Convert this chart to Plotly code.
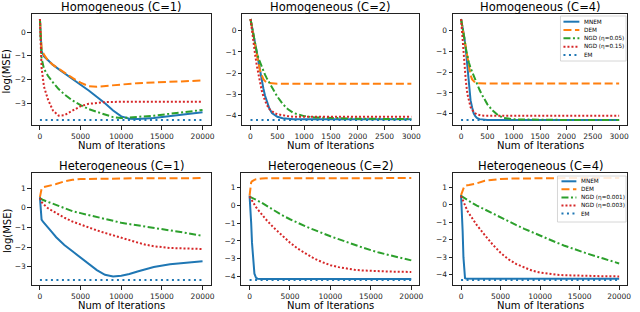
import math
import plotly.graph_objects as go

W, H = 640, 312

# ---------------- data ----------------
series_names = ["MNEM", "DEM", "NGD_a", "NGD_b", "EM"]
legend_top = ["MNEM", "DEM", "NGD (η=0.05)", "NGD (η=0.15)", "EM"]
legend_bottom = ["MNEM", "DEM", "NGD (η=0.001)", "NGD (η=0.003)", "EM"]
titles = ["Homogeneous (C=1)", "Homogeneous (C=2)", "Homogeneous (C=4)",
          "Heterogeneous (C=1)", "Heterogeneous (C=2)", "Heterogeneous (C=4)"]

# Homogeneous C=1
x_hom1 = [0, 100, 200, 500, 1000, 1600, 2300, 3000, 4000, 5000, 6000, 7000, 8000, 9000,
          10000, 11000, 12000, 14000, 16000, 18000, 20000]
mnem_hom1 = [0.55, -0.4, -0.8, -1.02, -1.2, -1.38, -1.56, -1.74, -1.98, -2.22, -2.46, -2.72,
             -3.0, -3.3, -3.55, -3.65, -3.66, -3.62, -3.54, -3.46, -3.38]
dem_hom1 = [0.55, -0.35, -0.7, -0.95, -1.2, -1.38, -1.55, -1.72, -1.93, -2.13, -2.28, -2.3,
            -2.27, -2.23, -2.2, -2.17, -2.15, -2.12, -2.09, -2.06, -2.04]
ngda_hom1 = [0.55, -0.6, -1.1, -1.55, -1.85, -2.12, -2.4, -2.62, -2.88, -3.08, -3.24, -3.36,
             -3.48, -3.58, -3.62, -3.6, -3.58, -3.52, -3.44, -3.36, -3.28]
ngdb_hom1 = [0.55, -0.8, -1.5, -2.3, -2.85, -3.3, -3.52, -3.5, -3.3, -3.12, -3.02, -2.97,
             -2.95, -2.94, -2.93, -2.93, -2.93, -2.93, -2.93, -2.93, -2.93]
em_hom1 = [-3.7] * len(x_hom1)

# Homogeneous C=2
x_hom2 = [0, 30, 60, 90, 120, 150, 180, 210, 240, 270, 300, 350, 400, 450, 500, 600, 700,
          800, 900, 1000, 1200, 1500, 2000, 2500, 3000]
mnem_hom2 = [0.55, 0.2, -0.28, -0.65, -1.05, -1.5, -1.95, -2.35, -2.72, -3.05, -3.3, -3.65,
             -3.87, -3.98, -4.05, -4.12, -4.15, -4.17, -4.17, -4.17, -4.17, -4.17, -4.17,
             -4.17, -4.17]
dem_hom2 = [0.55, 0.1, -0.35, -0.75, -1.15, -1.55, -1.9, -2.12, -2.28, -2.37, -2.42, -2.46,
            -2.48, -2.48, -2.49, -2.49, -2.49, -2.49, -2.49, -2.49, -2.5, -2.5, -2.5, -2.5, -2.5]
ngda_hom2 = [0.55, 0.1, -0.35, -0.72, -1.05, -1.3, -1.52, -1.72, -1.9, -2.07, -2.22, -2.45,
             -2.68, -2.9, -3.1, -3.45, -3.7, -3.87, -3.96, -4.02, -4.08, -4.11, -4.14, -4.15,
             -4.16]
ngdb_hom2 = [0.55, -0.1, -0.7, -1.2, -1.68, -2.12, -2.5, -2.83, -3.08, -3.3, -3.47, -3.68,
             -3.8, -3.88, -3.93, -3.99, -4.02, -4.05, -4.05, -4.05, -4.05, -4.05, -4.05,
             -4.05, -4.05]
em_hom2 = [-4.2] * len(x_hom2)

# Homogeneous C=4
x_hom4 = x_hom2
mnem_hom4 = [0.55, 0.2, -0.3, -0.9, -1.75, -2.7, -3.35, -3.7, -3.98, -4.12, -4.2, -4.26,
             -4.28, -4.3, -4.3, -4.3, -4.3, -4.3, -4.3, -4.3, -4.3, -4.3, -4.3, -4.3, -4.3]
dem_hom4 = [0.55, 0.1, -0.4, -0.95, -1.45, -1.85, -2.15, -2.35, -2.46, -2.51, -2.54, -2.55,
            -2.55, -2.55, -2.55, -2.55, -2.55, -2.55, -2.55, -2.55, -2.55, -2.55, -2.55,
            -2.55, -2.55]
ngda_hom4 = [0.55, 0.15, -0.35, -0.85, -1.25, -1.55, -1.8, -2.0, -2.2, -2.4, -2.57, -2.85,
             -3.1, -3.35, -3.55, -3.85, -4.07, -4.2, -4.25, -4.27, -4.28, -4.3, -4.3, -4.3,
             -4.3]
ngdb_hom4 = [0.55, -0.6, -1.6, -2.4, -3.05, -3.45, -3.68, -3.82, -3.92, -3.98, -4.03, -4.07,
             -4.09, -4.1, -4.1, -4.1, -4.1, -4.1, -4.1, -4.1, -4.1, -4.1, -4.1, -4.1, -4.1]
em_hom4 = [-4.3] * len(x_hom4)

# Heterogeneous C=1
x_het1 = [0, 100, 200, 400, 700, 1000, 1500, 2000, 3000, 4000, 5000, 6000, 7000, 8000, 9000,
          10000, 11000, 12000, 13000, 14000, 16000, 18000, 20000]
mnem_het1 = [0.55, -0.4, -0.6, -0.72, -0.88, -1.0, -1.25, -1.5, -1.9, -2.22, -2.55, -2.88,
             -3.18, -3.42, -3.5, -3.47, -3.38, -3.25, -3.12, -3.02, -2.88, -2.79, -2.73]
dem_het1 = [0.55, 0.85, 0.97, 1.05, 1.08, 1.1, 1.14, 1.22, 1.35, 1.43, 1.47, 1.48, 1.49, 1.5,
            1.5, 1.5, 1.51, 1.51, 1.51, 1.51, 1.52, 1.52, 1.52]
ngda_het1 = [0.5, 0.47, 0.44, 0.4, 0.35, 0.3, 0.22, 0.14, -0.04, -0.17, -0.27, -0.37, -0.48,
             -0.58, -0.68, -0.76, -0.83, -0.89, -0.96, -1.02, -1.14, -1.28, -1.43]
ngdb_het1 = [0.5, 0.4, 0.3, 0.2, 0.08, -0.02, -0.15, -0.28, -0.5, -0.7, -0.86, -1.0, -1.15,
             -1.28, -1.41, -1.53, -1.65, -1.77, -1.88, -1.96, -2.05, -2.09, -2.1]
em_het1 = [-3.68] * len(x_het1)

# Heterogeneous C=2
x_het2 = [0, 100, 200, 300, 400, 500, 600, 800, 1000, 1500, 2000, 3000, 4000, 5000, 6000,
          7000, 8000, 9000, 10000, 11000, 12000, 13000, 14000, 16000, 18000, 20000]
mnem_het2 = [0.55, -0.1, -1.0, -2.1, -2.9, -3.5, -3.85, -4.08, -4.13, -4.15, -4.15, -4.15,
             -4.15, -4.15, -4.15, -4.15, -4.15, -4.15, -4.15, -4.15, -4.15, -4.15, -4.15,
             -4.15, -4.15, -4.15]
dem_het2 = [0.55, 1.05, 1.3, 1.36, 1.4, 1.42, 1.44, 1.47, 1.49, 1.52, 1.53, 1.53, 1.53, 1.54,
            1.54, 1.54, 1.54, 1.54, 1.54, 1.54, 1.54, 1.54, 1.54, 1.54, 1.54, 1.54]
ngda_het2 = [0.5, 0.48, 0.46, 0.44, 0.42, 0.4, 0.37, 0.32, 0.27, 0.15, 0.0, -0.3, -0.55,
             -0.78, -1.0, -1.2, -1.38, -1.57, -1.74, -1.9, -2.07, -2.24, -2.38, -2.66, -2.9,
             -3.1]
ngdb_het2 = [0.5, 0.42, 0.34, 0.26, 0.18, 0.1, 0.03, -0.1, -0.22, -0.52, -0.78, -1.26, -1.7,
             -2.1, -2.45, -2.75, -3.0, -3.2, -3.37, -3.48, -3.57, -3.63, -3.67, -3.72, -3.74,
             -3.75]
em_het2 = [-4.2] * len(x_het2)

# Heterogeneous C=4
x_het4 = x_het2
mnem_het4 = [0.55, -0.3, -1.5, -3.0, -4.1, -4.2, -4.22, -4.23, -4.23, -4.23, -4.23, -4.23,
             -4.23, -4.23, -4.23, -4.23, -4.23, -4.23, -4.23, -4.23, -4.23, -4.23, -4.23,
             -4.23, -4.23, -4.23]
dem_het4 = [0.55, 0.7, 0.85, 0.98, 1.05, 1.08, 1.1, 1.11, 1.12, 1.15, 1.22, 1.37, 1.44, 1.47,
            1.49, 1.5, 1.5, 1.51, 1.51, 1.51, 1.51, 1.52, 1.52, 1.52, 1.52, 1.52]
ngda_het4 = [0.5, 0.47, 0.44, 0.41, 0.38, 0.35, 0.31, 0.24, 0.19, 0.07, -0.05, -0.28, -0.51,
             -0.74, -0.96, -1.17, -1.38, -1.58, -1.77, -1.96, -2.15, -2.33, -2.5, -2.8, -3.08,
             -3.36]
ngdb_het4 = [0.5, 0.38, 0.26, 0.14, 0.03, -0.07, -0.17, -0.35, -0.5, -0.85, -1.17, -1.74,
             -2.28, -2.75, -3.12, -3.4, -3.6, -3.77, -3.88, -3.95, -4.0, -4.03, -4.05, -4.07,
             -4.09, -4.1]
em_het4 = [-4.3] * len(x_het4)

xticks_long = [0, 5000, 10000, 15000, 20000]
xticks_short = [0, 500, 1000, 1500, 2000, 2500, 3000]

panels = [
    (x_hom1, [mnem_hom1, dem_hom1, ngda_hom1, ngdb_hom1, em_hom1], xticks_long),
    (x_hom2, [mnem_hom2, dem_hom2, ngda_hom2, ngdb_hom2, em_hom2], xticks_short),
    (x_hom4, [mnem_hom4, dem_hom4, ngda_hom4, ngdb_hom4, em_hom4], xticks_short),
    (x_het1, [mnem_het1, dem_het1, ngda_het1, ngdb_het1, em_het1], xticks_long),
    (x_het2, [mnem_het2, dem_het2, ngda_het2, ngdb_het2, em_het2], xticks_long),
    (x_het4, [mnem_het4, dem_het4, ngda_het4, ngdb_het4, em_het4], xticks_long),
]

# ---------------- styles ----------------
colors = ["#1f77b4", "#ff7f0e", "#2ca02c", "#d62728", "#1f77b4"]
dashes = ["solid", "8px,3.5px", "7px,2.5px,2px,2.5px", "2px,2px", "2px,3.5px"]
widths = [2, 2, 2, 2, 2]
draw_order = [4, 0, 1, 2, 3]  # EM underneath

# pixel boxes of the six axes: (left, right, top, bottom)
boxes = [(32, 212, 14, 125), (244, 422, 14, 125), (456, 631, 14, 125),
         (32, 212, 173, 285), (243, 422, 173, 285), (456, 631, 173, 285)]

FONT = "DejaVu Sans"
INK = "#222222"


def px(x):
    return x / W


def py(y):
    return 1 - y / H


def mtext(v):
    s = f"{v:g}"
    return s.replace("-", "\u2212")


fig = go.Figure()
annotations = []
shapes = []

for i, (xs, ys_list, xticks) in enumerate(panels):
    s = "" if i == 0 else str(i + 1)
    for k in draw_order:
        fig.add_trace(go.Scatter(
            x=xs, y=ys_list[k], mode="lines", name=series_names[k], showlegend=False,
            line=dict(color=colors[k], width=widths[k], dash=dashes[k]),
            xaxis="x" + s, yaxis="y" + s, hoverinfo="skip"))
    allv = [v for ys in ys_list for v in ys]
    lo, hi = min(allv), max(allv)
    pad = 0.05 * (hi - lo)
    yr = [lo - pad, hi + pad]
    xmax = max(xs)
    xr = [-0.05 * xmax, 1.05 * xmax]
    yt = list(range(math.ceil(yr[0]), math.floor(yr[1]) + 1))
    l, r, t, b = boxes[i]
    common = dict(showline=True, mirror=True, linecolor=INK, linewidth=1, ticks="outside",
                  ticklen=3.5, tickwidth=0.8, tickcolor=INK, showgrid=False, zeroline=False,
                  tickfont=dict(family=FONT, size=7.5, color=INK))
    fig.update_layout(**{
        "xaxis" + s: dict(domain=[px(l), px(r)], anchor="y" + s, range=xr,
                          tickmode="array", tickvals=xticks,
                          ticktext=[mtext(v) for v in xticks], **common),
        "yaxis" + s: dict(domain=[py(b), py(t)], anchor="x" + s, range=yr,
                          tickmode="array", tickvals=yt,
                          ticktext=[mtext(v) for v in yt], **common),
    })
    cx = (l + r) / 2
    annotations.append(dict(text=titles[i], x=px(cx), y=py(t - 7.5), xref="paper", yref="paper",
                            showarrow=False, xanchor="center", yanchor="middle",
                            font=dict(family=FONT, size=11.5, color="#000")))
    annotations.append(dict(text="Num of Iterations", x=px(cx), y=py(b + 20.5), xref="paper",
                            yref="paper", showarrow=False, xanchor="center", yanchor="middle",
                            font=dict(family=FONT, size=10, color="#000")))
    if i in (0, 3):
        annotations.append(dict(text="log(MSE)", x=px(7), y=py((t + b) / 2 + 2), xref="paper",
                                yref="paper", showarrow=False, textangle=-90,
                                xanchor="center", yanchor="middle",
                                font=dict(family=FONT, size=10, color="#000")))


# manual matplotlib-style legends
def add_legend(labels, box, rows, line_x0, line_x1, text_x):
    l, r, t, b = box
    shapes.append(dict(type="rect", xref="paper", yref="paper", x0=px(l), x1=px(r),
                       y0=py(b), y1=py(t), line=dict(color="#cccccc", width=0.8),
                       fillcolor="rgba(255,255,255,0.85)", layer="above"))
    for k, (lab, yy) in enumerate(zip(labels, rows)):
        shapes.append(dict(type="line", xref="paper", yref="paper", x0=px(line_x0),
                           x1=px(line_x1), y0=py(yy), y1=py(yy), layer="above",
                           line=dict(color=colors[k], width=widths[k], dash=dashes[k])))
        annotations.append(dict(text=lab, x=px(text_x), y=py(yy), xref="paper", yref="paper",
                                showarrow=False, xanchor="left", yanchor="middle",
                                font=dict(family=FONT, size=5.7, color="#000")))


add_legend(legend_top, (564, 630, 16, 61), [21.7, 30, 38.3, 46.7, 55], 567, 583, 586)
add_legend(legend_bottom, (561, 630, 176, 222), [181.3, 189.3, 197.5, 205.5, 213.5],
           565, 580, 583)

fig.update_layout(width=W, height=H, margin=dict(l=0, r=0, t=0, b=0),
                  paper_bgcolor="white", plot_bgcolor="white", showlegend=False,
                  annotations=annotations, shapes=shapes)

fig.write_html("out.html", config={"displayModeBar": False},
               post_script="document.body.style.margin='0';")
